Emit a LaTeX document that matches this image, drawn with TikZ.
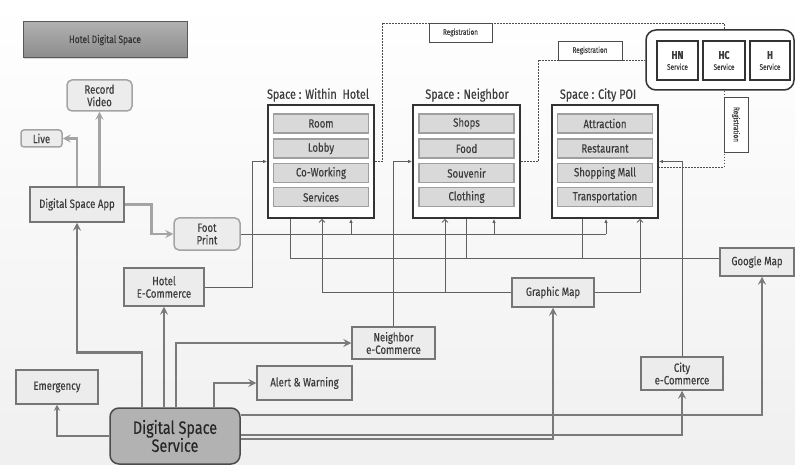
\documentclass[tikz,border=0pt]{standalone}
\usepackage{fontspec}
\setmainfont[FakeStretch=0.8,FakeBold=0.25]{Fira Sans}
\usetikzlibrary{arrows.meta,shadows,calc}
\definecolor{txt}{HTML}{3C3C3C}
\definecolor{bfill}{HTML}{ECECEC}
\definecolor{bline}{HTML}{767676}
\definecolor{tline}{HTML}{606060}
\definecolor{aline}{HTML}{7A7A7A}
\definecolor{lline}{HTML}{A4A4A4}
\tikzset{
  bx/.style={draw=bline, line width=1.5pt, fill=bfill, text=txt, align=center, inner sep=1pt, font=\fontsize{12}{12.5}\selectfont},
  rbx/.style={bx, draw=lline, rounded corners=5pt},
  itembox/.style={draw=gray!75, line width=1.2pt, fill=gray!30, text=txt, minimum width=95pt, minimum height=19pt, inner sep=0pt, font=\fontsize{12}{12}\selectfont},
  spacebox/.style={draw=black!80, line width=1.8pt, fill=white, minimum width=106pt, minimum height=113pt, inner sep=0pt},
  stitle/.style={text=txt, font=\fontsize{13.5}{14}\selectfont, inner sep=0pt},
  thinln/.style={draw=tline, line width=0.8pt},
  fillarr/.style={thinln, -{Latex[length=4pt,width=3.5pt]}},
  openarr/.style={thinln, -{Straight Barb[length=3pt,width=6pt]}},
  thickarr/.style={draw=aline, line width=2.6pt, -{Stealth[length=8pt,width=8pt,inset=3pt]}},
  lightarr/.style={thickarr, draw=lline},
  regln/.style={draw=black!70, line width=0.9pt, dash pattern=on 1.6pt off 1.4pt},
  reglabel/.style={draw=black!70, line width=0.7pt, fill=white, text=txt, inner sep=0pt, font=\fontsize{8}{8}\selectfont},
  svcbox/.style={draw=black!80, line width=1.4pt, fill=white, inner sep=0pt, minimum width=41pt, minimum height=39pt, align=center, text=txt},
}
\begin{document}
\begin{tikzpicture}[x=1pt,y=-1pt]
\useasboundingbox (0,0) rectangle (795,465);
\fill[top color=white, bottom color=gray!12] (0,0) rectangle (795,465);

% title
\node[draw=black!65, line width=1pt, top color=gray!62, bottom color=gray!90, drop shadow={shadow xshift=1pt,shadow yshift=-1.5pt,opacity=0.3},
      minimum width=164pt, minimum height=36pt, text=black!80, font=\fontsize{10.5}{11}\selectfont] (title) at (105,40) {Hotel Digital Space};

% left nodes
\node[rbx, minimum width=65pt, minimum height=31pt] (rec) at (99.5,95.5) {Record\\Video};
\node[rbx, minimum width=41pt, minimum height=17pt, rounded corners=3pt] (live) at (41.5,138.5) {Live};
\node[bx, minimum width=94pt, minimum height=35pt] (app) at (77,204.5) {Digital Space App};
\node[rbx, minimum width=66pt, minimum height=32pt] (foot) at (207,234) {Foot\\Print};
\node[bx, minimum width=80pt, minimum height=38pt] (hec) at (164,287) {Hotel\\E-Commerce};
\node[bx, minimum width=82pt, minimum height=34pt] (emerg) at (57,387) {Emergency};
\node[draw=black!70, line width=1.5pt, fill=gray!60, rounded corners=9pt, minimum width=130pt, minimum height=56pt, align=center,
      text=black!85, font=\fontsize{18}{18}\selectfont] (svc) at (175,436) {Digital Space\\Service};
\node[bx, minimum width=95pt, minimum height=34pt] (alert) at (304.5,383) {Alert \& Warning};
\node[bx, minimum width=83pt, minimum height=32pt] (nec) at (393.5,343) {Neighbor\\e-Commerce};
\node[bx, minimum width=82pt, minimum height=29pt] (gmap) at (553,292.5) {Graphic Map};
\node[bx, minimum width=74pt, minimum height=28pt] (goog) at (757,262) {Google Map};
\node[bx, minimum width=82pt, minimum height=33pt] (cec) at (682,373.5) {City\\e-Commerce};

% spaces
\node[spacebox] (wh) at (321,161.5) {};
\node[spacebox, minimum width=107pt] (nb) at (466.5,161.5) {};
\node[spacebox] (cp) at (605,161.5) {};
\node[stitle] (whT) at (318,95) {Space : Within\ \ Hotel};
\node[stitle] (nbT) at (467,95) {Space : Neighbor};
\node[stitle] (cpT) at (598,95) {Space : City POI};

\node[itembox] (w1) at (321,123.5) {Room};
\node[itembox] (w2) at (321,148.5) {Lobby};
\node[itembox] (w3) at (321,173) {Co-Working};
\node[itembox] (w4) at (321,197) {Services};
\node[itembox] (n1) at (466.5,123.5) {Shops};
\node[itembox] (n2) at (466.5,148.5) {Food};
\node[itembox] (n3) at (466.5,173) {Souvenir};
\node[itembox] (n4) at (466.5,197) {Clothing};
\node[itembox] (c1) at (605,123.5) {Attraction};
\node[itembox] (c2) at (605,148.5) {Restaurant};
\node[itembox] (c3) at (605,173) {Shopping Mall};
\node[itembox] (c4) at (605,197) {Transportation};

% service group
\node[draw=black!80, line width=1.5pt, fill=white, rounded corners=10pt, minimum width=148pt, minimum height=60pt] (grp) at (720,60) {};
\node[svcbox] (hn) at (677.5,60.5) {\fontsize{11}{11}\selectfont\bfseries HN\\[-1pt]\fontsize{8}{8}\selectfont Service};
\node[svcbox, minimum width=42pt] (hc) at (724,60.5) {\fontsize{11}{11}\selectfont\bfseries HC\\[-1pt]\fontsize{8}{8}\selectfont Service};
\node[svcbox, minimum width=40pt] (hh) at (770,60.5) {\fontsize{11}{11}\selectfont\bfseries H\\[-1pt]\fontsize{8}{8}\selectfont Service};

% registration dashed lines
\coordinate (r1) at (382,23);
\coordinate (r2) at (538,60);
\draw[regln] (wh.east) -| (r1) -| (grp.north -| hc.north);
\draw[regln] (nb.east) -| (r2) -- (grp.west);
\draw[regln] (grp.south -| hc.south) |- ([yshift=-6pt]cp.east);
\node[reglabel, minimum width=63pt, minimum height=19pt] (reg1) at (460.5,32.5) {Registration};
\node[reglabel, minimum width=64pt, minimum height=19pt] (reg2) at (590,50.5) {Registration};
\node[reglabel, minimum width=24pt, minimum height=55pt] (reg3) at (736,124.5) {\rotatebox{-90}{Registration}};

% tap coordinates on space bottoms
\coordinate (wG) at ([xshift=-31pt]wh.south);
\coordinate (wM) at ([xshift=1pt]wh.south);
\coordinate (wF) at ([xshift=30pt]wh.south);
\coordinate (nM) at ([xshift=-21.5pt]nb.south);
\coordinate (nG) at ([xshift=-0.5pt]nb.south);
\coordinate (nF) at ([xshift=27.5pt]nb.south);
\coordinate (cG) at ([xshift=-23pt]cp.south);
\coordinate (cF) at ([xshift=1pt]cp.south);
\coordinate (cM) at ([xshift=35pt]cp.south);
\coordinate (gy) at ([yshift=4pt]goog.west);

% foot print line
\draw[thinln] (foot.east) -- (foot.east -| cF);
\draw[fillarr] (wF |- foot.east) -- (wF);
\draw[fillarr] (nF |- foot.east) -- (nF);
\draw[fillarr] (cF |- foot.east) -- (cF);

% google map line
\draw[thinln] (gy) -- (gy -| wG) -- (wG);
\draw[thinln] (nG |- gy) -- (nG);
\draw[thinln] (cG |- gy) -- (cG);

% graphic map lines
\draw[openarr] (gmap.west) -| (wM);
\draw[openarr] (nM |- gmap.west) -- (nM);
\draw[openarr] (gmap.east) -| (cM);

% e-commerce lines
\draw[fillarr] (hec.east) -- ++(48,0) |- (wh.west);
\draw[fillarr] (nec.north) |- (nb.west);
\draw[fillarr] (cec.north) |- (cp.east);

% app arrows
\draw[lightarr] (app.north) |- (live.east);
\draw[lightarr] (rec.south |- app.north) -- (rec.south);
\draw[lightarr] (app.east) -- ++(27,0) |- (foot.west);

% service arrows
\draw[thickarr] ([xshift=-33pt]svc.north) -- ++(0,-55) -| (app.south);
\draw[thickarr] (hec.south |- svc.north) -- (hec.south);
\draw[thickarr] ([xshift=1pt]svc.north) |- (nec.west);
\draw[thickarr] ([xshift=39pt]svc.north) |- (alert.west);
\draw[thickarr, line width=2pt, -{Stealth[length=6pt,width=6pt,inset=2pt]}] (svc.west) -| (emerg.south);
\draw[thickarr] ([yshift=-3pt]svc.east) -| (gmap.south);
\draw[thickarr] ([yshift=1pt]svc.east) -| (cec.south);
\draw[thickarr] ([yshift=21pt]svc.east) -| ([xshift=5pt]goog.south);
\end{tikzpicture}
\end{document}
